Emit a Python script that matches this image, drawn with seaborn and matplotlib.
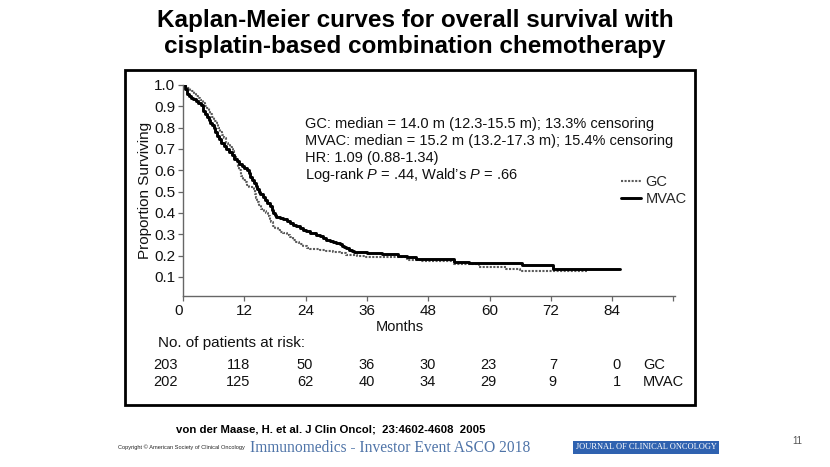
import numpy as np
import pandas as pd
import matplotlib
matplotlib.use("Agg")
import matplotlib.pyplot as plt
from matplotlib.patches import Rectangle
from matplotlib.lines import Line2D
import seaborn as sns

# ---------------- data ----------------
mvac_t = [0, 0.4, 0.7, 1.1, 1.5, 2.0, 2.5, 3.0, 3.5, 4.0, 4.3, 4.6, 5.0, 5.3, 5.7, 6.0,
          6.3, 6.6, 7.0, 7.5, 8.0, 8.5, 9.0, 9.5, 10.0, 10.5, 11.0, 11.5, 12.0, 12.5,
          12.9, 13.2, 13.5, 13.8, 14.2, 14.5, 14.8, 15.1, 15.6, 16.0, 16.5, 17.0, 17.4,
          17.7, 18.0, 18.3, 19.0, 19.5, 20.3, 21.0, 21.5, 22.2, 22.9, 23.5, 24.0, 24.9,
          26.0, 26.8, 27.4, 28.0, 28.8, 29.4, 30.0, 30.7, 31.2, 31.5, 32.0, 32.5, 33.0,
          33.5, 36.0, 39.0, 42.0, 43.8, 45.7, 53.0, 56.0, 66.3, 72.4, 85.5]
mvac_s = [1.0, 0.98, 0.96, 0.95, 0.94, 0.935, 0.925, 0.915, 0.905, 0.88, 0.865, 0.85,
          0.835, 0.82, 0.81, 0.80, 0.78, 0.76, 0.745, 0.73, 0.715, 0.70, 0.685, 0.67,
          0.655, 0.645, 0.63, 0.62, 0.61, 0.60, 0.585, 0.57, 0.555, 0.54, 0.525, 0.51,
          0.50, 0.49, 0.475, 0.46, 0.445, 0.43, 0.415, 0.40, 0.39, 0.38, 0.375, 0.37,
          0.36, 0.352, 0.345, 0.338, 0.33, 0.322, 0.315, 0.305, 0.298, 0.29, 0.282,
          0.275, 0.27, 0.265, 0.26, 0.255, 0.245, 0.24, 0.234, 0.228, 0.222, 0.218,
          0.214, 0.206, 0.20, 0.193, 0.183, 0.17, 0.164, 0.155, 0.137, 0.137]

gc_t = [0, 0.5, 1.0, 1.4, 1.7, 2.1, 2.5, 2.9, 3.3, 3.9, 4.3, 4.6, 5.0, 5.3, 5.7, 6.0,
        6.3, 6.6, 6.9, 7.2, 7.6, 8.0, 8.5, 8.9, 9.2, 9.5, 9.8, 10.0, 10.3, 10.5, 10.8,
        11.0, 11.4, 11.8, 12.1, 12.5, 13.0, 13.8, 14.0, 14.2, 14.4, 14.8, 15.3, 15.8,
        16.3, 16.7, 17.0, 17.3, 17.6, 18.0, 18.5, 19.0, 19.6, 20.3, 21.0, 21.6, 22.2,
        22.8, 23.5, 24.2, 24.9, 26.8, 28.0, 29.4, 30.7, 32.0, 34.0, 35.9, 40.0, 43.8,
        46.4, 53.0, 58.0, 63.3, 66.0, 79.0]
gc_s = [1.0, 0.99, 0.985, 0.975, 0.97, 0.96, 0.95, 0.94, 0.93, 0.915, 0.90, 0.89,
        0.875, 0.865, 0.85, 0.84, 0.83, 0.82, 0.80, 0.78, 0.765, 0.75, 0.73, 0.72,
        0.71, 0.70, 0.69, 0.67, 0.655, 0.64, 0.62, 0.60, 0.575, 0.555, 0.545, 0.53,
        0.52, 0.51, 0.49, 0.47, 0.45, 0.435, 0.42, 0.41, 0.40, 0.385, 0.37, 0.355,
        0.34, 0.33, 0.32, 0.312, 0.305, 0.295, 0.285, 0.275, 0.265, 0.255, 0.245,
        0.237, 0.23, 0.225, 0.22, 0.215, 0.21, 0.203, 0.198, 0.195, 0.192, 0.18,
        0.172, 0.161, 0.148, 0.136, 0.127, 0.127]

x_ticks = [0, 12, 24, 36, 48, 60, 72, 84, 96]
x_tick_labels = ["0", "12", "24", "36", "48", "60", "72", "84", ""]
y_ticks = [0.1, 0.2, 0.3, 0.4, 0.5, 0.6, 0.7, 0.8, 0.9, 1.0]
y_tick_labels = ["0.1", "0.2", "0.3", "0.4", "0.5", "0.6", "0.7", "0.8", "0.9", "1.0"]

risk_months = [-3.5, 10.8, 23.9, 36, 47.9, 59.7, 72.4, 84.9]
risk_gc = [203, 118, 50, 36, 30, 23, 7, 0]
risk_mvac = [202, 125, 62, 40, 34, 29, 9, 1]

stats_lines = [
    "GC: median = 14.0 m (12.3-15.5 m); 13.3% censoring",
    "MVAC: median = 15.2 m (13.2-17.3 m); 15.4% censoring",
    "HR: 1.09 (0.88-1.34)",
    r"Log-rank $\it{P}$ = .44, Wald’s $\it{P}$ = .66",
]

df = pd.concat([
    pd.DataFrame({"Months": gc_t, "Survival": gc_s, "Arm": "GC"}),
    pd.DataFrame({"Months": mvac_t, "Survival": mvac_s, "Arm": "MVAC"}),
])

# ---------------- figure ----------------
sns.set_theme(style="white")
plt.rcParams["font.family"] = ["Liberation Sans", "DejaVu Sans"]
plt.rcParams["mathtext.fontset"] = "custom"
plt.rcParams["mathtext.it"] = "Liberation Sans:italic"
plt.rcParams["mathtext.rm"] = "Liberation Sans"

W, H = 830, 467
fig = plt.figure(figsize=(W / 100, H / 100), dpi=100)
fig.patch.set_facecolor("white")

def fx(px):
    return px / W

def fy(py):
    return 1 - py / H

ax = fig.add_axes([fx(183), fy(296), fx(675) - fx(183), fy(85) - fy(296)])

GC_STYLE = dict(color="#5a5a5a", linewidth=1.5, linestyle=(0, (1, 0.7)))
MVAC_STYLE = dict(color="black", linewidth=2.1)

sns.lineplot(data=df[df.Arm == "GC"], x="Months", y="Survival", ax=ax,
             drawstyle="steps-post", estimator=None, sort=False, legend=False,
             **GC_STYLE)
sns.lineplot(data=df[df.Arm == "MVAC"], x="Months", y="Survival", ax=ax,
             drawstyle="steps-post", estimator=None, sort=False, legend=False,
             **MVAC_STYLE)

ax.set_xlim(0, 96.3)
ax.set_ylim(0.01, 1.0)
ax.set_xticks(x_ticks)
ax.set_xticklabels(x_tick_labels)
ax.set_yticks(y_ticks)
ax.set_yticklabels(y_tick_labels)
ax.set_xlabel("")
ax.set_ylabel("")
for s in ["top", "right"]:
    ax.spines[s].set_visible(False)
for s in ["left", "bottom"]:
    ax.spines[s].set_color("#666666")
    ax.spines[s].set_linewidth(1.0)
ax.tick_params(axis="both", which="both", direction="out", length=3.5, width=0.9,
               color="#666666", labelsize=11, labelcolor="#111111", pad=2,
               left=True, bottom=True)
ax.tick_params(axis="x", pad=2)
lbl0 = ax.get_xticklabels()[0]
lbl0.set_horizontalalignment("right")
ax.set_facecolor("none")

# Stats text
for i, line in enumerate(stats_lines):
    fig.text(fx(305), fy(124 + 17 * i), line, fontsize=10.5, color="#111111",
             ha="left", va="center")

# Legend
leg_handles = [Line2D([], [], **GC_STYLE), Line2D([], [], **MVAC_STYLE)]
fig.legend(leg_handles, ["GC", "MVAC"], loc="upper left",
           bbox_to_anchor=(fx(612), fy(166)), frameon=False, fontsize=10.5,
           handlelength=1.4, handletextpad=0.3, labelspacing=0.2, borderpad=0.1)

# Axis labels
fig.text(fx(145), fy(190), "Proportion Surviving", rotation=90, fontsize=11,
         ha="center", va="center", color="#111111")
fig.text(fx(400), fy(327), "Months", fontsize=10.5, ha="center", va="center",
         color="#111111")

# Risk table
fig.text(fx(158), fy(343), "No. of patients at risk:", fontsize=11, ha="left",
         va="center", color="#111111")
for m, g, v in zip(risk_months, risk_gc, risk_mvac):
    xd = ax.transData.transform((m, 0))[0] / fig.dpi / fig.get_figwidth()
    fig.text(xd, fy(365), str(g), fontsize=10.5, ha="center", va="center", color="#111111")
    fig.text(xd, fy(382), str(v), fontsize=10.5, ha="center", va="center", color="#111111")
fig.text(fx(643), fy(365), "GC", fontsize=10.5, ha="left", va="center", color="#111111")
fig.text(fx(643), fy(382), "MVAC", fontsize=10.5, ha="left", va="center", color="#111111")

# Frame around the chart
fig.patches.append(Rectangle((fx(125), fy(405)), fx(695) - fx(125), fy(70) - fy(405),
                             transform=fig.transFigure, fill=False, edgecolor="black",
                             linewidth=2.0))

# Title
fig.text(fx(415), fy(20), "Kaplan-Meier curves for overall survival with",
         fontsize=17.5, fontweight="bold", ha="center", va="center", color="black")
fig.text(fx(415), fy(46), "cisplatin-based combination chemotherapy",
         fontsize=17.5, fontweight="bold", ha="center", va="center", color="black")

# Footer
fig.text(fx(176), fy(430), "von der Maase, H. et al. J Clin Oncol;  23:4602-4608  2005",
         fontsize=8.2, fontweight="bold", ha="left", va="center", color="black")
fig.text(fx(118), fy(447), "Copyright © American Society of Clinical Oncology",
         fontsize=4.1, ha="left", va="center", color="#222222")
fig.text(fx(250), fy(448), "Immunomedics - Investor Event ASCO 2018",
         fontsize=11.2, ha="left", va="center", color="#4f74a8",
         family=["Liberation Serif", "DejaVu Serif"])
fig.text(fx(646), fy(447), "JOURNAL OF CLINICAL ONCOLOGY", fontsize=6,
         ha="center", va="center", color="white",
         family=["Liberation Serif", "DejaVu Serif"],
         bbox=dict(boxstyle="square,pad=0.3", facecolor="#2f62b0", edgecolor="none"))
fig.text(fx(797), fy(441), "11", fontsize=7, ha="center", va="center", color="#555555")

fig.savefig("out.png", dpi=100, facecolor="white")
